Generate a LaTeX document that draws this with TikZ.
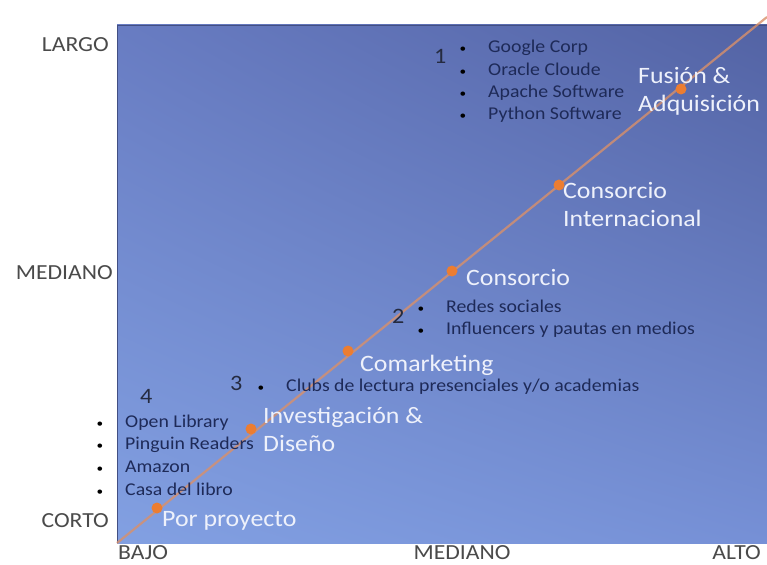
\documentclass[tikz,border=0pt]{standalone}
\usepackage{fontspec}
\setmainfont{Carlito}[FakeStretch=1.1]
\usetikzlibrary{shadings}
\definecolor{bgll}{HTML}{82A0E2}
\definecolor{bglr}{HTML}{7690D6}
\definecolor{bgul}{HTML}{687CC2}
\definecolor{bgur}{HTML}{5363A4}
\definecolor{linec}{HTML}{D9906A}
\definecolor{dotc}{HTML}{EC7D31}
\definecolor{itemc}{HTML}{1E2A58}
\definecolor{axisc}{HTML}{4A4A4A}
\definecolor{lblc}{HTML}{EEF1FB}
\definecolor{numc}{HTML}{252B40}
\begin{document}
\begin{tikzpicture}[x=1pt,y=-1pt,
  lbl/.style={text=lblc, font=\fontsize{23.5}{28}\selectfont, anchor=base west, inner sep=0},
  item/.style={text=itemc, font=\fontsize{18}{22.5}\selectfont, anchor=base west, inner sep=0},
  num/.style={text=numc, font=\fontsize{22}{24}\selectfont, anchor=base west, inner sep=0},
  axisl/.style={text=axisc, font=\fontsize{21.5}{24}\selectfont, inner sep=0},
  dot/.style={circle, fill=dotc, minimum size=11pt, inner sep=0}]
\newcommand{\bitem}[1]{\makebox[30pt][l]{\hspace{1.5pt}\textcolor{black}{\fontsize{12}{12}\selectfont •}}#1}
% canvas
\fill[white] (0,0) rectangle (767,564);
\useasboundingbox (0,0) rectangle (767,564);
% plot area
\shade[lower left=bgll, lower right=bglr, upper left=bgul, upper right=bgur] (117,25) rectangle (767,543);
\draw[bgur!80!black, line width=0.8pt] (117,543) -- (117,25) -- (767,25);
% diagonal
\coordinate (s) at (117,543);
\coordinate (e) at (767,17);
\draw[linec, line width=2.2pt, opacity=0.8] (s) -- (e);
% dots
\node[dot] (d1) at (157,508) {};
\node[dot] (d2) at (251,429) {};
\node[dot] (d3) at (348,351) {};
\node[dot] (d4) at (452,271) {};
\node[dot] (d5) at (559,185) {};
\node[dot] (d6) at (681,89) {};
% white labels
\node[lbl] (l1) at (162,526) {Por proyecto};
\node[lbl] (l2a) at (263,423) {Investigación \&};
\node[lbl] (l2b) at (263,451) {Diseño};
\node[lbl] (l3) at (360,371) {Comarketing};
\node[lbl] (l4) at (466,285) {Consorcio};
\node[lbl] (l5a) at (563,198) {Consorcio};
\node[lbl] (l5b) at (563,226) {Internacional};
\node[lbl] (l6a) at (638,84) {Fusión \&};
\node[lbl] (l6b) at (638,112) {Adquisición};
% list 1
\node[num] (n1) at (434,64) {1};
\node[item] (i1a) at (458,53) {\bitem{Google Corp}};
\node[item] (i1b) at (458,76) {\bitem{Oracle Cloude}};
\node[item] (i1c) at (458,98) {\bitem{Apache Software}};
\node[item] (i1d) at (458,120) {\bitem{Python Software}};
% list 2
\node[num] (n2) at (392,323) {2};
\node[item] (i2a) at (416,312) {\bitem{Redes sociales}};
\node[item] (i2b) at (416,334) {\bitem{Influencers y pautas en medios}};
% list 3
\node[num] (n3) at (230,390) {3};
\node[item] (i3a) at (256,391) {\bitem{Clubs de lectura presenciales y/o academias}};
% list 4
\node[num] (n4) at (140,403) {4};
\node[item] (i4a) at (95,427) {\bitem{Open Library}};
\node[item] (i4b) at (95,449) {\bitem{Pinguin Readers}};
\node[item] (i4c) at (95,472) {\bitem{Amazon}};
\node[item] (i4d) at (95,495) {\bitem{Casa del libro}};
% axis labels
\node[axisl, anchor=base east] (yl) at (109,52) {LARGO};
\node[axisl, anchor=base east] (ym) at (113,279) {MEDIANO};
\node[axisl, anchor=base east] (yc) at (109,527) {CORTO};
\node[axisl, anchor=base west] (xb) at (118,559) {BAJO};
\node[axisl, anchor=base] (xm) at (462,559) {MEDIANO};
\node[axisl, anchor=base east] (xa) at (761,559) {ALTO};
\end{tikzpicture}
\end{document}
